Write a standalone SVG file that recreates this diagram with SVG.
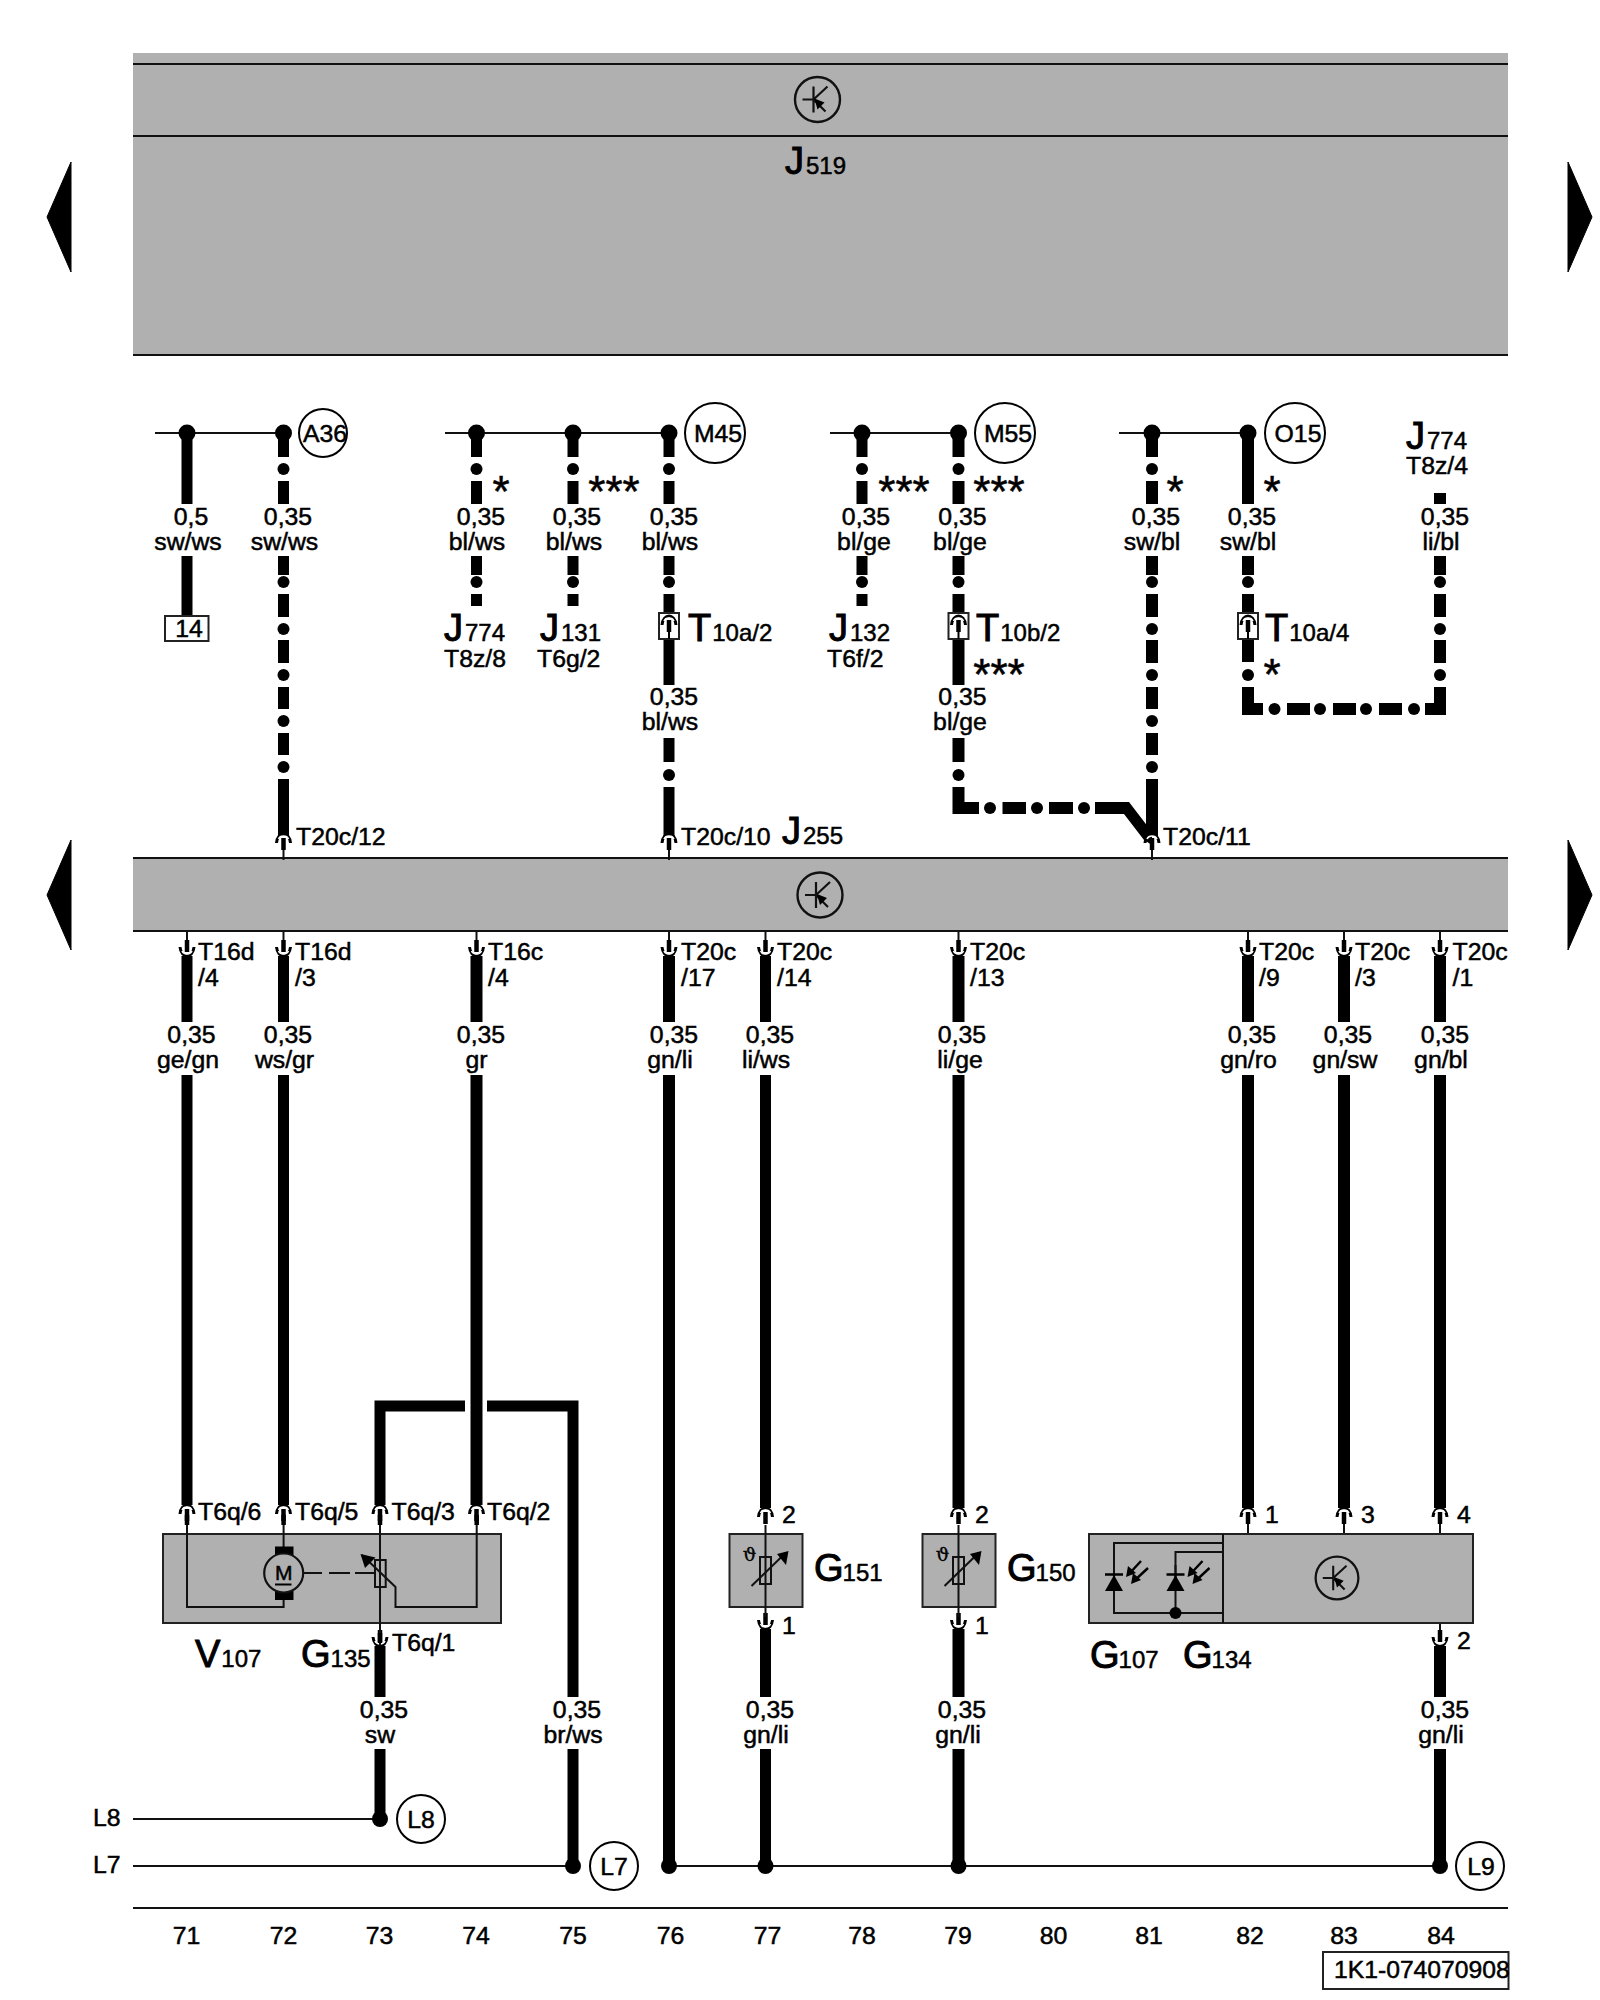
<svg xmlns="http://www.w3.org/2000/svg" width="1600" height="2000" viewBox="0 0 1600 2000">
<style>
text{font-family:"Liberation Sans",Arial,sans-serif;font-size:24.800px;fill:#000;stroke:#000;stroke-width:.5}
.m{text-anchor:middle}
.big{font-size:38px;stroke-width:1}
.sub{font-size:24px}
.st{font-size:44px;text-anchor:middle;stroke-width:.5}
.w{fill:none;stroke:#000;stroke-width:11}
.w12{fill:none;stroke:#000;stroke-width:12}
.l{fill:none;stroke:#111;stroke-width:2}
.band{fill:#b0b0b0}
.box{fill:#b0b0b0;stroke:#222;stroke-width:2}
.ring{fill:#fff;stroke:#000;stroke-width:2}
.cut{fill:#fff;stroke:#222;stroke-width:2}
.f{fill:#000}
</style>
<defs>
<g id="tr">
<circle r="22.5" fill="none" stroke="#111" stroke-width="2.4"/>
<path d="M-15 0H-4M-4-13V13M-4 0L10-13M-4 0L8 12" fill="none" stroke="#111" stroke-width="2.2"/>
<path d="M-3-1L7 3L0 10Z" fill="#000"/>
</g>
<g id="up">
<path d="M-7 9C-6.5 3-3 0 0 0C3 0 6.5 3 7 9" fill="none" stroke="#000" stroke-width="3"/>
<path d="M-5 5C-4 2.500-2 2 0 2C2 2 4 2.500 5 5" fill="none" stroke="#fff" stroke-width="1.500"/>
<path d="M0 4V16" stroke="#000" stroke-width="4.500"/>
</g>
<g id="sensor">
<rect x="-36" y="0" width="73" height="73" class="box"/>
<path d="M0-9V83" class="l"/>
<rect x="-5.500" y="23" width="11" height="27" fill="none" stroke="#111" stroke-width="2"/>
<path d="M-14 52L20 19" class="l"/>
<path d="M23 17L11.500 20L20.500 31Z" fill="#000"/>
<text x="-16" y="27" class="m" style="font-family:'DejaVu Serif',serif;font-size:19px;stroke-width:.3">ϑ</text>
</g>
<g id="diode">
<path d="M0 22V40" class="l"/>
<path d="M-9 31.500H9" stroke="#000" stroke-width="2.500"/>
<path d="M0 32L-9 48H9Z" fill="#000"/>
<path d="M27 18L15 31M34 25L20 38" stroke="#000" stroke-width="2.400"/>
<path d="M12 34L14 23L22 30ZM17 41L19 30L27 37Z" fill="#000"/>
</g>
</defs>

<polygon points="71,162 47,217 71,272" fill="#000" stroke="#000" stroke-linejoin="round"/>
<polygon points="1568,162 1592,217 1568,272" fill="#000" stroke="#000" stroke-linejoin="round"/>
<polygon points="71,840 47,895 71,950" fill="#000" stroke="#000" stroke-linejoin="round"/>
<polygon points="1568,840 1592,895 1568,950" fill="#000" stroke="#000" stroke-linejoin="round"/>

<g id="J519">
<rect x="133" y="53" width="1375" height="302" class="band"/>
<path d="M133 64H1508M133 136H1508M133 355H1508" class="l"/>
<use href="#tr" x="817.500" y="99.500"/>
<text x="785" y="174"><tspan class="big">J</tspan><tspan class="sub" dx="2">519</tspan></text>
</g>

<g id="J255">
<rect x="133" y="858" width="1375" height="73" class="band"/>
<path d="M133 858H1508M133 931H1508" class="l"/>
<use href="#tr" x="820" y="895"/>
<text x="782" y="844"><tspan class="big">J</tspan><tspan class="sub" dx="2">255</tspan></text>
</g>

<g id="connectors">
<path d="M155 433H283.500M445 433H669M830 433H958.500M1119 433H1248M133 1819H380M133 1866H573M669 1866H1440M133 1908H1508" class="l"/>
<path class="w" d="M187 433V504M187 556V616"/>
<path class="w" d="M283.500 433V457M283.500 481V504M283.500 556V575M283.500 594V617M283.500 640V663M283.500 687V709M283.500 733V755M283.500 779V836"/>
<path class="w" d="M476.500 433V457M476.500 481V504M476.500 556V575M476.500 594V606"/>
<path class="w" d="M573 433V457M573 481V504M573 556V575M573 594V606"/>
<path class="w" d="M669 433V457M669 481V504M669 556V575M669 594V613M669 639V685M669 738V762M669 787V836"/>
<path class="w" d="M862 433V457M862 481V504M862 556V575M862 594V606"/>
<path class="w12" d="M958.500 433V457M958.500 481V504M958.500 556V575M958.500 594V613M958.500 639V685M958.500 738V762M958.500 787V808H979M1002.500 808H1026M1049 808H1073M1095 808H1127"/>
<path d="M1095 802H1129L1152 832V845L1144 840L1124 814H1095Z" class="f"/>
<path class="w12" d="M1152 433V457M1152 481V504M1152 556V575M1152 594V617M1152 640V663M1152 687V709M1152 733V755M1152 779V836"/>
<path class="w12" d="M1248 433V504M1248 556V575M1248 594V613M1248 639V662M1248 687V709H1263M1287 709H1310M1333 709H1356M1379 709H1402M1425 709H1440V687M1440 663V640M1440 617V594M1440 575V556M1440 504V493"/>
<path class="w" d="M187 956V1022M187 1075V1505"/>
<path class="w" d="M283.500 956V1022M283.500 1075V1505"/>
<path class="w12" d="M476.500 956V1022M476.500 1075V1505"/>
<path class="w12" d="M669 956V1022M669 1075V1866"/>
<path class="w" d="M765.500 956V1022M765.500 1075V1508M765.500 1629V1697M765.500 1749V1866"/>
<path class="w12" d="M958.500 956V1022M958.500 1075V1508M958.500 1629V1697M958.500 1749V1866"/>
<path class="w12" d="M1248 956V1022M1248 1075V1508"/>
<path class="w12" d="M1344 956V1022M1344 1075V1508"/>
<path class="w12" d="M1440 956V1022M1440 1075V1508M1440 1646V1697M1440 1749V1866"/>
<path class="w" d="M380 1505V1406H465M487 1406H573V1697M573 1749V1866"/>
<path class="w" d="M380 1646V1697M380 1749V1819"/>
<g class="f">
<circle cx="283.500" cy="469" r="6"/><circle cx="283.500" cy="582" r="6"/><circle cx="283.500" cy="629" r="6"/><circle cx="283.500" cy="675" r="6"/><circle cx="283.500" cy="721" r="6"/><circle cx="283.500" cy="767" r="6"/>
<circle cx="476.500" cy="469" r="6"/><circle cx="476.500" cy="582" r="6"/>
<circle cx="573" cy="469" r="6"/><circle cx="573" cy="582" r="6"/>
<circle cx="669" cy="469" r="6"/><circle cx="669" cy="582" r="6"/><circle cx="669" cy="775" r="6"/>
<circle cx="862" cy="469" r="6"/><circle cx="862" cy="582" r="6"/>
<circle cx="958.500" cy="469" r="6"/><circle cx="958.500" cy="582" r="6"/><circle cx="958.500" cy="775" r="6"/>
<circle cx="990" cy="808" r="6"/><circle cx="1037" cy="808" r="6"/><circle cx="1084" cy="808" r="6"/>
<circle cx="1152" cy="469" r="6"/><circle cx="1152" cy="582" r="6"/><circle cx="1152" cy="629" r="6"/><circle cx="1152" cy="675" r="6"/><circle cx="1152" cy="721" r="6"/><circle cx="1152" cy="767" r="6"/>
<circle cx="1248" cy="582" r="6"/><circle cx="1248" cy="675" r="6"/>
<circle cx="1274.500" cy="709" r="6"/><circle cx="1320" cy="709" r="6"/><circle cx="1366" cy="709" r="6"/><circle cx="1414" cy="709" r="6"/>
<circle cx="1440" cy="675" r="6"/><circle cx="1440" cy="629" r="6"/><circle cx="1440" cy="582" r="6"/>
<circle cx="187" cy="433" r="8.500"/><circle cx="283.500" cy="433" r="8.500"/>
<circle cx="476.500" cy="433" r="8.500"/><circle cx="573" cy="433" r="8.500"/><circle cx="669" cy="433" r="8.500"/>
<circle cx="862" cy="433" r="8.500"/><circle cx="958.500" cy="433" r="8.500"/>
<circle cx="1152" cy="433" r="8.500"/><circle cx="1248" cy="433" r="8.500"/>
<circle cx="380" cy="1819" r="8"/>
<circle cx="573" cy="1866" r="8"/><circle cx="669" cy="1866" r="8"/><circle cx="765.500" cy="1866" r="8"/><circle cx="958.500" cy="1866" r="8"/><circle cx="1440" cy="1866" r="8"/>
</g>
<path class="l" d="M283.500 848V860M669 848V860M1152 848V860"/>
<use href="#up" x="283.500" y="834"/><use href="#up" x="669" y="834"/><use href="#up" x="1152" y="834"/>
<path class="l" d="M187 930V946M283.500 930V946M476.500 930V946M669 930V946M765.500 930V946M958.500 930V946M1248 930V946M1344 930V946M1440 930V946"/>
<use href="#up" transform="translate(187 956) scale(1 -1)"/><use href="#up" transform="translate(283.500 956) scale(1 -1)"/><use href="#up" transform="translate(476.500 956) scale(1 -1)"/><use href="#up" transform="translate(669 956) scale(1 -1)"/><use href="#up" transform="translate(765.500 956) scale(1 -1)"/><use href="#up" transform="translate(958.500 956) scale(1 -1)"/><use href="#up" transform="translate(1248 956) scale(1 -1)"/><use href="#up" transform="translate(1344 956) scale(1 -1)"/><use href="#up" transform="translate(1440 956) scale(1 -1)"/>
<path class="l" d="M1248 1520V1535M1344 1520V1535M1440 1520V1535M1440 1622V1636"/>
<use href="#up" x="187" y="1505"/><use href="#up" x="283.500" y="1505"/><use href="#up" x="380" y="1505"/><use href="#up" x="476.500" y="1505"/>
<use href="#up" x="1248" y="1508"/><use href="#up" x="1344" y="1508"/><use href="#up" x="1440" y="1508"/>
<use href="#up" x="765.500" y="1508"/><use href="#up" x="958.500" y="1508"/>
<use href="#up" transform="translate(765.500 1629) scale(1 -1)"/><use href="#up" transform="translate(958.500 1629) scale(1 -1)"/>
<use href="#up" transform="translate(1440 1646) scale(1 -1)"/><use href="#up" transform="translate(380 1646) scale(1 -1)"/>
</g>

<g id="A36"><circle cx="323" cy="433" r="24" class="ring"/><text x="325" y="441.500" class="m">A36</text></g>
<g id="M45"><circle cx="715" cy="433" r="30" class="ring"/><text x="718" y="441.500" class="m">M45</text></g>
<g id="M55"><circle cx="1005" cy="433" r="30" class="ring"/><text x="1008" y="441.500" class="m">M55</text></g>
<g id="O15"><circle cx="1295" cy="433" r="30" class="ring"/><text x="1298" y="441.500" class="m">O15</text></g>
<g id="L8n"><circle cx="421" cy="1819" r="24" class="ring"/><text x="421" y="1827.500" class="m">L8</text></g>
<g id="L7n"><circle cx="614" cy="1866" r="24" class="ring"/><text x="614" y="1874.500" class="m">L7</text></g>
<g id="L9n"><circle cx="1480" cy="1866" r="24" class="ring"/><text x="1481" y="1874.500" class="m">L9</text></g>

<g id="fuse14"><rect x="165" y="616" width="43.500" height="25" class="cut"/><text x="189" y="637" class="m">14</text></g>

<g id="T10a2"><rect x="659" y="613" width="20" height="26" class="cut"/><use href="#up" x="669" y="616"/><path d="M669 630V639" stroke="#000" stroke-width="2"/><text x="688" y="641"><tspan class="big">T</tspan><tspan class="sub" dx="1">10a/2</tspan></text></g>
<g id="T10b2"><rect x="948.500" y="613" width="20" height="26" class="cut"/><use href="#up" x="958.500" y="616"/><path d="M958.500 630V639" stroke="#000" stroke-width="2"/><text x="976" y="641"><tspan class="big">T</tspan><tspan class="sub" dx="1">10b/2</tspan></text></g>
<g id="T10a4"><rect x="1238" y="613" width="20" height="26" class="cut"/><use href="#up" x="1248" y="616"/><path d="M1248 630V639" stroke="#000" stroke-width="2"/><text x="1265" y="641"><tspan class="big">T</tspan><tspan class="sub" dx="1">10a/4</tspan></text></g>

<g id="J774a"><text x="444" y="641"><tspan class="big">J</tspan><tspan class="sub" dx="2">774</tspan></text><text x="444" y="667">T8z/8</text></g>
<g id="J131"><text x="540" y="641"><tspan class="big">J</tspan><tspan class="sub" dx="2">131</tspan></text><text x="537" y="667">T6g/2</text></g>
<g id="J132"><text x="829" y="641"><tspan class="big">J</tspan><tspan class="sub" dx="2">132</tspan></text><text x="827" y="667">T6f/2</text></g>
<g id="J774b"><text x="1406" y="449"><tspan class="big">J</tspan><tspan class="sub" dx="2">774</tspan></text><text x="1406" y="474">T8z/4</text></g>

<g id="stars">
<text x="501" y="507" class="st">*</text><text x="614" y="507" class="st">***</text>
<text x="904" y="507" class="st">***</text><text x="999" y="507" class="st">***</text>
<text x="1175" y="507" class="st">*</text><text x="1272" y="507" class="st">*</text>
<text x="999" y="690" class="st">***</text><text x="1272" y="690" class="st">*</text>
</g>

<g id="wire-labels">
<text x="191" y="525" class="m">0,5</text><text x="188" y="550" class="m">sw/ws</text>
<text x="288" y="525" class="m">0,35</text><text x="284.500" y="550" class="m">sw/ws</text>
<text x="481" y="525" class="m">0,35</text><text x="477" y="550" class="m">bl/ws</text>
<text x="577" y="525" class="m">0,35</text><text x="574" y="550" class="m">bl/ws</text>
<text x="674" y="525" class="m">0,35</text><text x="670" y="550" class="m">bl/ws</text>
<text x="674" y="705" class="m">0,35</text><text x="670" y="730" class="m">bl/ws</text>
<text x="866" y="525" class="m">0,35</text><text x="864" y="550" class="m">bl/ge</text>
<text x="962.500" y="525" class="m">0,35</text><text x="960" y="550" class="m">bl/ge</text>
<text x="962.500" y="705" class="m">0,35</text><text x="960" y="730" class="m">bl/ge</text>
<text x="1156" y="525" class="m">0,35</text><text x="1152" y="550" class="m">sw/bl</text>
<text x="1252" y="525" class="m">0,35</text><text x="1248" y="550" class="m">sw/bl</text>
<text x="1445" y="525" class="m">0,35</text><text x="1441" y="550" class="m">li/bl</text>
<text x="191.500" y="1043" class="m">0,35</text><text x="188" y="1068" class="m">ge/gn</text>
<text x="288" y="1043" class="m">0,35</text><text x="284.500" y="1068" class="m">ws/gr</text>
<text x="481" y="1043" class="m">0,35</text><text x="476.500" y="1068" class="m">gr</text>
<text x="674" y="1043" class="m">0,35</text><text x="670" y="1068" class="m">gn/li</text>
<text x="770" y="1043" class="m">0,35</text><text x="766" y="1068" class="m">li/ws</text>
<text x="962" y="1043" class="m">0,35</text><text x="960" y="1068" class="m">li/ge</text>
<text x="1252" y="1043" class="m">0,35</text><text x="1248.500" y="1068" class="m">gn/ro</text>
<text x="1348" y="1043" class="m">0,35</text><text x="1345" y="1068" class="m">gn/sw</text>
<text x="1445" y="1043" class="m">0,35</text><text x="1441" y="1068" class="m">gn/bl</text>
<text x="384" y="1718" class="m">0,35</text><text x="380" y="1743" class="m">sw</text>
<text x="577" y="1718" class="m">0,35</text><text x="573" y="1743" class="m">br/ws</text>
<text x="770" y="1718" class="m">0,35</text><text x="766" y="1743" class="m">gn/li</text>
<text x="962" y="1718" class="m">0,35</text><text x="958" y="1743" class="m">gn/li</text>
<text x="1445" y="1718" class="m">0,35</text><text x="1441" y="1743" class="m">gn/li</text>
</g>

<g id="pin-labels">
<text x="296" y="845">T20c/12</text><text x="681" y="845">T20c/10</text><text x="1163" y="845">T20c/11</text>
<text x="198" y="960">T16d</text><text x="198" y="986">/4</text>
<text x="295" y="960">T16d</text><text x="295" y="986">/3</text>
<text x="488" y="960">T16c</text><text x="488" y="986">/4</text>
<text x="681" y="960">T20c</text><text x="681" y="986">/17</text>
<text x="777" y="960">T20c</text><text x="777" y="986">/14</text>
<text x="970" y="960">T20c</text><text x="970" y="986">/13</text>
<text x="1259" y="960">T20c</text><text x="1259" y="986">/9</text>
<text x="1355" y="960">T20c</text><text x="1355" y="986">/3</text>
<text x="1452.500" y="960">T20c</text><text x="1452.500" y="986">/1</text>
</g>

<g id="V107-G135">
<rect x="163" y="1534" width="338" height="89" class="box"/>
<path class="l" d="M187 1520V1607H283.600V1597M283.600 1520V1550M380 1520V1646M476.700 1520V1607H395.500V1587L362 1555"/>
<path stroke="#000" stroke-width="4.500" d="M187 1515V1525M283.600 1515V1525M380 1515V1525M476.700 1515V1525M380 1633V1643"/>
<rect x="275" y="1546.500" width="18.500" height="10.500" class="f"/><rect x="275" y="1591" width="18.500" height="9" class="f"/>
<circle cx="283.700" cy="1573" r="19.500" fill="#b0b0b0" stroke="#111" stroke-width="2.200"/>
<text x="283.700" y="1580" class="m" style="font-size:21px">M</text>
<path d="M275 1584.500H291.500" stroke="#000" stroke-width="2"/>
<path d="M304 1573H322M329 1573H350M355 1573H375" class="l"/>
<rect x="375" y="1560" width="10.700" height="27" fill="none" stroke="#111" stroke-width="2"/>
<path d="M360.500 1554L375.500 1557.500L365 1568Z" class="f"/>
<text x="195" y="1667"><tspan class="big">V</tspan><tspan class="sub" dx="1">107</tspan></text>
<text x="301" y="1667"><tspan class="big">G</tspan><tspan class="sub" dx="0">135</tspan></text>
<text x="198" y="1520">T6q/6</text><text x="295" y="1520">T6q/5</text><text x="391.500" y="1520">T6q/3</text><text x="487" y="1520">T6q/2</text><text x="392" y="1651">T6q/1</text>
</g>

<g id="G151"><use href="#sensor" x="765.500" y="1534"/><text x="814" y="1581"><tspan class="big">G</tspan><tspan class="sub" dx="-1">151</tspan></text><text x="782" y="1523">2</text><text x="782" y="1634">1</text></g>
<g id="G150"><use href="#sensor" x="958.500" y="1534"/><text x="1007" y="1581"><tspan class="big">G</tspan><tspan class="sub" dx="-1">150</tspan></text><text x="975" y="1523">2</text><text x="975" y="1634">1</text></g>

<g id="G107-G134">
<rect x="1089" y="1534" width="384" height="89" class="box"/>
<path class="l" d="M1223 1534V1623M1223 1543H1114V1613H1223M1223 1552H1175.500V1613"/>
<use href="#diode" x="1114" y="1543"/><use href="#diode" x="1175.500" y="1543"/>
<circle cx="1175.500" cy="1613" r="6" class="f"/>
<use href="#tr" transform="translate(1337 1578) scale(.95)"/>
<text x="1090" y="1668"><tspan class="big">G</tspan><tspan class="sub" dx="-1">107</tspan></text>
<text x="1183" y="1668"><tspan class="big">G</tspan><tspan class="sub" dx="-1">134</tspan></text>
<text x="1265" y="1523">1</text><text x="1361" y="1523">3</text><text x="1457" y="1523">4</text><text x="1457" y="1649">2</text>
</g>

<g id="rails"><text x="93" y="1826">L8</text><text x="93" y="1873">L7</text></g>

<g id="column-numbers">
<text x="186.500" y="1944" class="m">71</text><text x="283.500" y="1944" class="m">72</text><text x="379.500" y="1944" class="m">73</text><text x="476" y="1944" class="m">74</text><text x="573" y="1944" class="m">75</text><text x="670.500" y="1944" class="m">76</text><text x="767.500" y="1944" class="m">77</text><text x="862" y="1944" class="m">78</text><text x="958" y="1944" class="m">79</text><text x="1053.500" y="1944" class="m">80</text><text x="1149" y="1944" class="m">81</text><text x="1250" y="1944" class="m">82</text><text x="1344" y="1944" class="m">83</text><text x="1441" y="1944" class="m">84</text>
</g>

<g id="docref"><rect x="1323" y="1952" width="185.500" height="37" fill="none" stroke="#222" stroke-width="2"/><text x="1334" y="1978" style="font-size:24.700px">1K1-074070908</text></g>
</svg>
